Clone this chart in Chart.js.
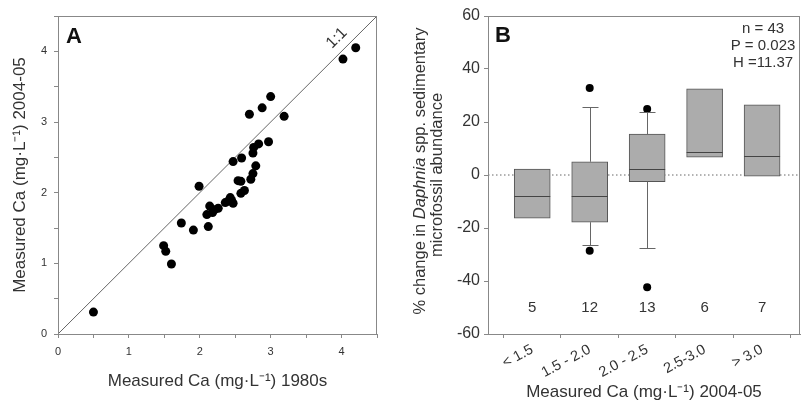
<!DOCTYPE html>
<html>
<head>
<meta charset="utf-8">
<script src="https://cdn.jsdelivr.net/npm/chart.js@4"></script>
<style>
  body { margin: 0; background: #fff; width: 804px; height: 401px; overflow: hidden; position: relative; }
  canvas { position: absolute; top: 0; }
  #chartA { left: 0; }
  #chartB { left: 400px; }
</style>
</head>
<body>
<canvas id="chartA" width="400" height="401"></canvas>
<canvas id="chartB" width="404" height="401"></canvas>
<script>
// panel A - lake Ca, 1980s vs 2004-05
const ca1980 = [0.50, 1.49, 1.52, 1.60, 1.74, 1.91, 1.99, 2.10, 2.12, 2.14, 2.18, 2.26, 2.36, 2.43, 2.47, 2.45,
                2.58, 2.63, 2.54, 2.58, 2.72, 2.75, 2.79, 2.47, 2.59, 2.75, 2.76, 2.83, 2.97, 2.70, 2.88, 3.00,
                3.19, 4.02, 4.20, 2.40, 2.21];
const ca2004 = [0.31, 1.25, 1.17, 0.99, 1.57, 1.47, 2.09, 1.69, 1.52, 1.81, 1.72, 1.78, 1.86, 1.93, 1.85, 1.89,
                1.99, 2.03, 2.17, 2.16, 2.19, 2.27, 2.38, 2.44, 2.49, 2.56, 2.64, 2.69, 2.72, 3.11, 3.20, 3.36,
                3.08, 3.89, 4.05, 1.88, 1.76];
const oneToOne = [0, 4.5];

// panel B - % change in Daphnia by Ca class
const classLabels = ['< 1.5', '1.5 - 2.0', '2.0 - 2.5', '2.5-3.0', '> 3.0'];
const boxLow = [-16.3, -17.8, -2.5, 6.7, -0.4];
const boxHigh = [2.2, 5.0, 15.4, 32.5, 26.5];
const medians = [-7.9, -7.9, 2.2, 8.8, 7.2];
const whiskerLow = [null, -26.4, -27.7, null, null];
const whiskerHigh = [null, 25.8, 23.9, null, null];
const outlierClass = [2, 2, 3, 3];
const outlierValues = [32.8, -28.6, 24.9, -42.4];
const lakeCounts = [5, 12, 13, 6, 7];
const stats = ['n = 43', 'P = 0.023', 'H =11.37'];

const FONT = 'Liberation Sans, Arial, sans-serif';
Chart.defaults.font.family = FONT;
Chart.defaults.color = '#333';

const AXIS = '#888';

// box round the plot area
const frame = {
  id: 'frame',
  afterDraw(chart) {
    const a = chart.chartArea, ctx = chart.ctx;
    ctx.save();
    ctx.strokeStyle = AXIS;
    ctx.lineWidth = 1;
    ctx.strokeRect(Math.round(a.left) + 0.5, Math.round(a.top) + 0.5, Math.round(a.right - a.left) - 1, Math.round(a.bottom - a.top));
    ctx.restore();
  }
};

const labelsA = {
  id: 'labelsA',
  afterDraw(chart) {
    const ctx = chart.ctx, x = chart.scales.x, y = chart.scales.y;
    ctx.save();
    ctx.fillStyle = '#111';
    ctx.font = 'bold 22px ' + FONT;
    ctx.textAlign = 'left';
    ctx.textBaseline = 'alphabetic';
    ctx.fillText('A', 66, 43);
    // 1:1 label along the line
    const px = x.getPixelForValue(4.06), py = y.getPixelForValue(4.06);
    ctx.translate(px - 9, py - 9);
    ctx.rotate(-Math.PI / 4);
    ctx.font = '16px ' + FONT;
    ctx.fillStyle = '#333';
    ctx.textAlign = 'center';
    ctx.textBaseline = 'middle';
    ctx.fillText('1:1', 0, 0);
    ctx.restore();
  }
};

new Chart(document.getElementById('chartA'), {
  type: 'scatter',
  data: {
    datasets: [
      {
        data: ca1980.map((v, i) => ({ x: v, y: ca2004[i] })),
        pointRadius: 4.5,
        backgroundColor: '#000',
        borderWidth: 0
      },
      {
        type: 'line',
        data: oneToOne.map(v => ({ x: v, y: v })),
        borderColor: '#666',
        borderWidth: 1,
        pointRadius: 0
      }
    ]
  },
  options: {
    responsive: false,
    animation: false,
    layout: { padding: { top: 16, right: 23, left: 0, bottom: 0 } },
    plugins: { legend: { display: false }, tooltip: { enabled: false } },
    scales: {
      x: {
        type: 'linear', min: 0, max: 4.5,
        ticks: { stepSize: 0.5, autoSkip: false, maxRotation: 0, padding: 7, font: { size: 11 },
                 callback: v => Number.isInteger(v) ? v : '' },
        grid: { drawOnChartArea: false, tickLength: 4, color: AXIS },
        border: { color: AXIS },
        title: { display: true, text: 'Measured Ca (mg·L⁻¹) 1980s', font: { size: 17 }, padding: { bottom: 9 } },
        afterFit: s => { s.height = 67; }
      },
      y: {
        type: 'linear', min: 0, max: 4.5,
        ticks: { stepSize: 0.5, autoSkip: false, padding: 7, font: { size: 11 },
                 callback: v => Number.isInteger(v) ? v : '' },
        grid: { drawOnChartArea: false, tickLength: 4, color: AXIS },
        border: { color: AXIS },
        title: { display: true, text: 'Measured Ca (mg·L⁻¹) 2004-05', font: { size: 17 }, padding: { top: 10 } },
        afterFit: s => { s.width = 58; }
      }
    }
  },
  plugins: [frame, labelsA]
});

// mixed roman / italic text, rotated
function drawRotatedRich(ctx, parts, cx, cy, size) {
  ctx.save();
  ctx.translate(cx, cy);
  ctx.rotate(-Math.PI / 2);
  ctx.textBaseline = 'middle';
  ctx.textAlign = 'left';
  let total = 0;
  parts.forEach(p => {
    ctx.font = (p[1] ? 'italic ' : '') + size + 'px ' + FONT;
    total += ctx.measureText(p[0]).width;
  });
  let pos = -total / 2;
  parts.forEach(p => {
    ctx.font = (p[1] ? 'italic ' : '') + size + 'px ' + FONT;
    ctx.fillText(p[0], pos, 0);
    pos += ctx.measureText(p[0]).width;
  });
  ctx.restore();
}

const boxExtras = {
  id: 'boxExtras',
  afterDatasetsDraw(chart) {
    const ctx = chart.ctx, x = chart.scales.x, y = chart.scales.y;
    const halfBox = 18, halfCap = 8;
    ctx.save();
    ctx.lineWidth = 1;
    // whiskers and caps
    ctx.strokeStyle = '#666';
    classLabels.forEach((_, i) => {
      const cx = Math.round(x.getPixelForValue(i + 1)) + 0.5;
      [[whiskerHigh[i], boxHigh[i]], [whiskerLow[i], boxLow[i]]].forEach(w => {
        if (w[0] === null) return;
        const wy = Math.round(y.getPixelForValue(w[0])) + 0.5;
        const by = y.getPixelForValue(w[1]);
        ctx.beginPath();
        ctx.moveTo(cx, by); ctx.lineTo(cx, wy);
        ctx.moveTo(cx - halfCap, wy); ctx.lineTo(cx + halfCap, wy);
        ctx.stroke();
      });
    });
    // medians
    ctx.strokeStyle = '#444';
    medians.forEach((m, i) => {
      const cx = x.getPixelForValue(i + 1);
      const my = Math.round(y.getPixelForValue(m)) + 0.5;
      ctx.beginPath();
      ctx.moveTo(cx - halfBox, my); ctx.lineTo(cx + halfBox, my);
      ctx.stroke();
    });
    // lake counts
    ctx.fillStyle = '#333';
    ctx.font = '15px ' + FONT;
    ctx.textAlign = 'center';
    ctx.textBaseline = 'middle';
    lakeCounts.forEach((n, i) => {
      ctx.fillText(String(n), x.getPixelForValue(i + 1), y.getPixelForValue(-50));
    });
    ctx.restore();
  },
  afterDraw(chart) {
    const ctx = chart.ctx;
    ctx.save();
    ctx.fillStyle = '#111';
    ctx.font = 'bold 22px ' + FONT;
    ctx.textAlign = 'left';
    ctx.textBaseline = 'alphabetic';
    ctx.fillText('B', 95, 42);
    ctx.fillStyle = '#333';
    ctx.font = '15px ' + FONT;
    ctx.textAlign = 'center';
    ctx.textBaseline = 'middle';
    stats.forEach((s, i) => ctx.fillText(s, 363, 29 + i * 17));
    // y axis title, two lines with italic genus name
    drawRotatedRich(ctx, [['% change in ', false], ['Daphnia', true], [' spp. sedimentary', false]], 20, 171, 16.5);
    drawRotatedRich(ctx, [['microfossil abundance', false]], 37, 175, 16.5);
    ctx.restore();
  }
};

const xMin = 0.23, xMax = 5.66;

new Chart(document.getElementById('chartB'), {
  type: 'bar',
  data: {
    datasets: [
      {
        type: 'bar',
        data: boxLow.map((lo, i) => ({ x: i + 1, y: [lo, boxHigh[i]] })),
        backgroundColor: '#acacac',
        borderColor: '#555',
        borderWidth: 1,
        borderSkipped: false,
        barThickness: 36,
        order: 2
      },
      {
        type: 'scatter',
        data: outlierClass.map((c, i) => ({ x: c, y: outlierValues[i] })),
        pointRadius: 4,
        backgroundColor: '#000',
        borderWidth: 0,
        order: 0
      },
      {
        type: 'line',
        data: [{ x: xMin, y: 0 }, { x: xMax, y: 0 }],
        borderColor: '#666',
        borderWidth: 1,
        borderDash: [1.5, 2.5],
        pointRadius: 0,
        order: 3
      }
    ]
  },
  options: {
    responsive: false,
    animation: false,
    layout: { padding: { top: 16, right: 1, left: 0, bottom: 0 } },
    plugins: { legend: { display: false }, tooltip: { enabled: false } },
    scales: {
      x: {
        type: 'linear', min: xMin, max: xMax, offset: false,
        afterBuildTicks: s => { s.ticks = classLabels.map((_, i) => ({ value: i + 1 })); },
        ticks: { autoSkip: false, minRotation: 28, maxRotation: 28, padding: 3, font: { size: 14.5 },
                 callback: v => classLabels[v - 1] },
        grid: { drawOnChartArea: false, tickLength: 4, color: AXIS },
        border: { color: AXIS },
        title: { display: true, text: 'Measured Ca (mg·L⁻¹) 2004-05', font: { size: 17 }, padding: { bottom: -2 } },
        afterFit: s => { s.height = 67; }
      },
      y: {
        type: 'linear', min: -60, max: 60,
        ticks: { stepSize: 20, padding: 4, font: { size: 16 } },
        grid: { drawOnChartArea: false, tickLength: 4, color: AXIS },
        border: { color: AXIS },
        afterFit: s => { s.width = 88; }
      }
    }
  },
  plugins: [frame, boxExtras]
});
</script>
</body>
</html>
